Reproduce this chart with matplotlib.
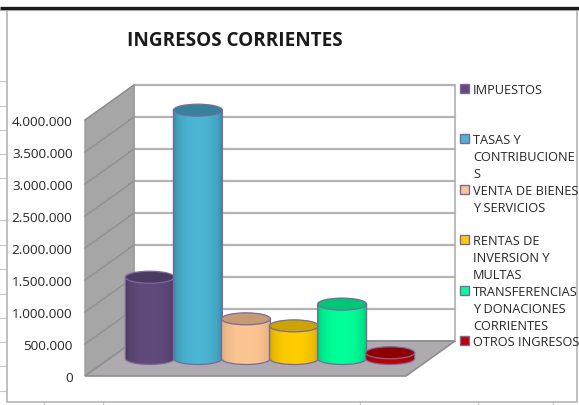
#!/usr/bin/env python3
import numpy as np
import matplotlib
matplotlib.use("Agg")
import matplotlib.pyplot as plt
from matplotlib.colors import LinearSegmentedColormap
from matplotlib.patches import Ellipse, Polygon, Rectangle

plt.rcParams['font.family'] = ['Open Sans', 'DejaVu Sans']

# data
TITLE = "INGRESOS CORRIENTES"
categories = ["IMPUESTOS", "TASAS Y\nCONTRIBUCIONE\nS", "VENTA DE BIENES\nY SERVICIOS",
              "RENTAS DE\nINVERSION Y\nMULTAS", "TRANSFERENCIAS\nY DONACIONES\nCORRIENTES",
              "OTROS INGRESOS"]
values = [1270000, 3880000, 620000, 510000, 850000, 90000]
tick_values = [0, 500000, 1000000, 1500000, 2000000, 2500000, 3000000, 3500000, 4000000]
tick_labels = ["0", "500.000", "1.000.000", "1.500.000", "2.000.000", "2.500.000",
               "3.000.000", "3.500.000", "4.000.000"]

# body colour, shaded edge, top cap
body_colors = ["#604a7b", "#4bb5d4", "#fcc491", "#ffcc00", "#00ff99", "#c00000"]
edge_colors = ["#3d2f50", "#2c7085", "#c49a72", "#b08c00", "#00a866", "#800000"]
top_colors = ["#4a3960", "#37829b", "#c69a72", "#cca300", "#00c678", "#8f0000"]
OUTLINE = "#7a6a9c"

W, H = 579, 406
legend_y = [89.5, 139.5, 190.5, 240, 291.5, 341]
LINE_PITCH = 17
left_stubs = [82, 107, 131, 155, 179, 221, 246, 270, 295, 319, 343, 367, 392]
bottom_stubs = [44, 103, 360, 478, 553]

fig = plt.figure(figsize=(W / 100, H / 100), dpi=100)

# page furniture + legend, in pixels
bg = fig.add_axes([0, 0, 1, 1], zorder=0)
bg.set_xlim(0, W)
bg.set_ylim(H, 0)
bg.axis('off')
for y in left_stubs:
    bg.plot([0, 7], [y, y], color="#c8c8c8", lw=0.8)
for x in bottom_stubs:
    bg.plot([x, x], [403, H], color="#c8c8c8", lw=0.8)
bg.plot([7, 7, 577, 577], [10, 403, 403, 10], color="#b4b4b4", lw=1.2)
bg.plot([0, W], [10.5, 10.5], color="#c0c0c0", lw=0.8)
bg.plot([0, W], [8.5, 8.5], color="#1c1a1c", lw=2.4, solid_capstyle='butt')

bg.text(234.5, 41.5, TITLE, fontsize=13.6, fontweight='bold', color="#1a1a1a",
        ha='center', va='center')

for name, y, c in zip(categories, legend_y, body_colors):
    bg.add_patch(Rectangle((459.5, y - 4.5), 9, 9, fc=c, ec=OUTLINE, lw=1))
    for k, line in enumerate(name.split("\n")):
        bg.text(473, y + 1.5 + k * LINE_PITCH, line, fontsize=9.2, color="#262626",
                ha='left', va='center')

# chart axes = front plane of the 3d box
ax = fig.add_axes([85 / W, 1 - 377 / H, 321 / W, 256 / H], zorder=1)
ax.patch.set_alpha(0)
XMIN, XMAX = -0.84, 5.84
YMAX = 4000000
for s in ax.spines.values():
    s.set_visible(False)
ax.set_xticks([])
ax.set_yticks(tick_values)
ax.set_yticklabels(tick_labels, fontsize=9.7, color="#262626")
ax.tick_params(axis='y', length=0, pad=9)

# depth of the box, in data units (49px right, 35px up)
DX = 49 / 321 * (XMAX - XMIN)
DY = 35 / 256 * YMAX


def box(points, **kw):
    ax.add_patch(Polygon(points, closed=True, clip_on=False, **kw))


box([(XMIN + DX, DY), (XMAX + DX, DY), (XMAX + DX, YMAX + DY), (XMIN + DX, YMAX + DY)],
    fc="white", ec="#b0b0b0", lw=1.2, zorder=1)
box([(XMIN, 0), (XMIN, YMAX), (XMIN + DX, YMAX + DY), (XMIN + DX, DY)],
    fc="#a6a6a6", ec="#9a9a9a", lw=1, zorder=2)
box([(XMIN, 0), (XMAX, 0), (XMAX + DX, DY), (XMIN + DX, DY)],
    fc="#aeaab0", ec="#8e8e8e", lw=1.2, zorder=2)

for t in tick_values[1:]:
    ax.plot([XMIN + DX, XMAX + DX], [t + DY, t + DY], color="#b4b4b4", lw=1.6,
            clip_on=False, zorder=1.5)
    ax.plot([XMIN, XMIN + DX], [t, t + DY], color="#8f8f8f", lw=1,
            clip_on=False, zorder=2.5)

# cylinders stand mid-depth on the floor
RX = 0.51
RY = 6 / 256 * YMAX
x_mid = DX / 2
y_mid = DY / 2
theta = np.linspace(np.pi, 2 * np.pi, 61)
shade = np.sin(np.linspace(0, np.pi, 60)) ** 0.6
for i, (v, c, e, t) in enumerate(zip(values, body_colors, edge_colors, top_colors)):
    cx = i + x_mid
    top = v + y_mid
    xs = cx + RX * np.cos(theta)
    ys = y_mid + RY * np.sin(theta)
    z = 3 + i
    # curved bottom, flat top: shaded left to right
    X = np.vstack([xs, xs])
    Y = np.vstack([ys, np.full_like(ys, top)])
    cmap = LinearSegmentedColormap.from_list("shade", [e, c], N=128)
    ax.pcolormesh(X, Y, shade[None, :], cmap=cmap, vmin=0, vmax=1, shading='flat',
                  clip_on=False, zorder=z + 0.1, antialiased=True, linewidth=0, rasterized=False)
    outline = np.column_stack([np.r_[xs, cx + RX, cx - RX], np.r_[ys, top, top]])
    ax.add_patch(Polygon(outline, closed=True, fc='none', ec=OUTLINE, lw=0.9,
                         clip_on=False, zorder=z + 0.2))
    ax.add_patch(Ellipse((cx, top), 2 * RX, 2 * RY, fc=t, ec=OUTLINE, lw=0.9,
                         clip_on=False, zorder=z + 0.3))

ax.set_xlim(XMIN, XMAX)
ax.set_ylim(0, YMAX)

fig.savefig("out.png", dpi=100)
